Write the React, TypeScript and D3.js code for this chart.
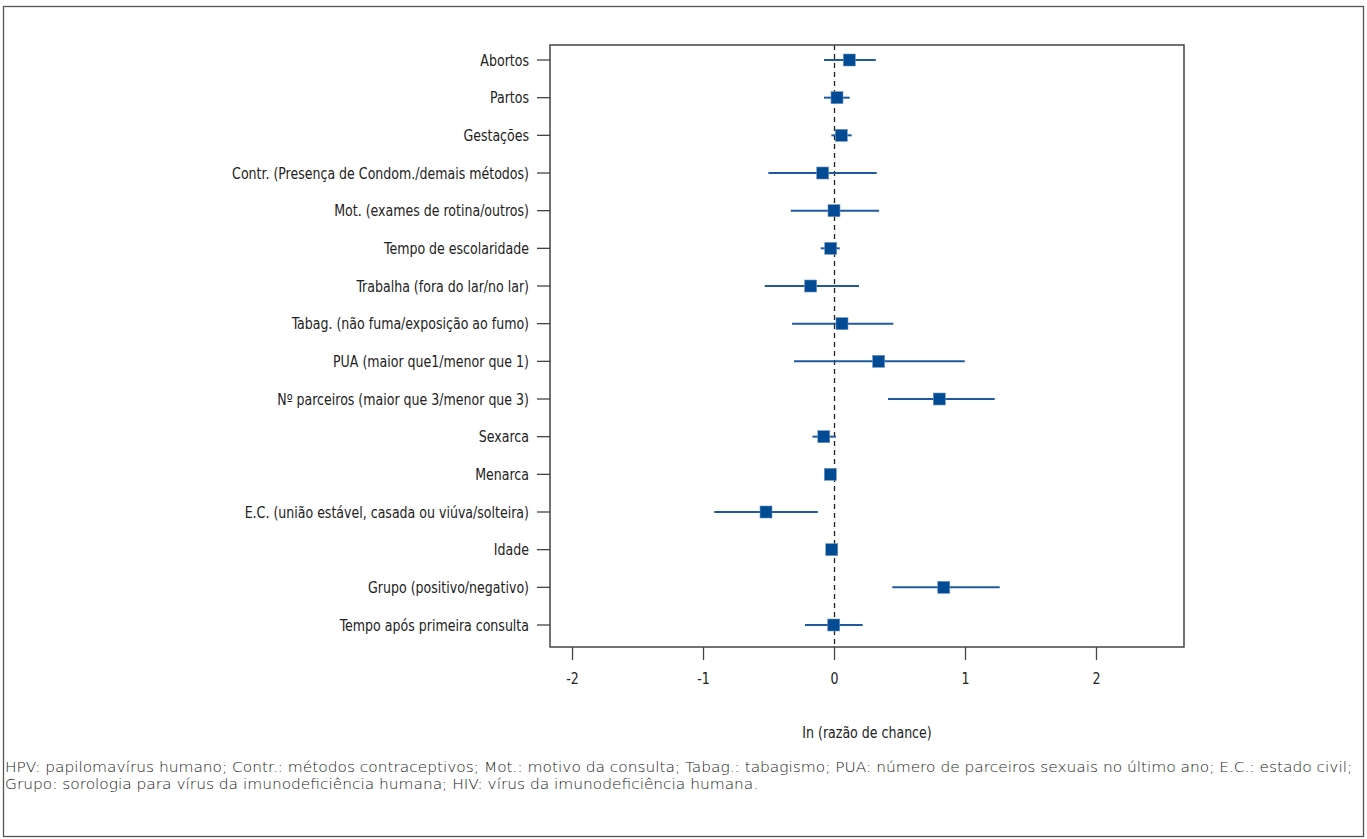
import React from "react";
import * as d3 from "d3";

const categories = [
  "Abortos",
  "Partos",
  "Gestações",
  "Contr. (Presença de Condom./demais métodos)",
  "Mot. (exames de rotina/outros)",
  "Tempo de escolaridade",
  "Trabalha (fora do lar/no lar)",
  "Tabag. (não fuma/exposição ao fumo)",
  "PUA (maior que1/menor que 1)",
  "Nº parceiros (maior que 3/menor que 3)",
  "Sexarca",
  "Menarca",
  "E.C. (união estável, casada ou viúva/solteira)",
  "Idade",
  "Grupo (positivo/negativo)",
  "Tempo após primeira consulta",
];

const estimates = [0.113, 0.019, 0.052, -0.09, -0.004, -0.029, -0.182, 0.057, 0.337, 0.8, -0.082, -0.032, -0.523, -0.021, 0.834, -0.006];
const lowerCI = [-0.08, -0.08, -0.024, -0.505, -0.334, -0.105, -0.533, -0.324, -0.309, 0.408, -0.169, -0.045, -0.918, -0.03, 0.441, -0.225];
const upperCI = [0.315, 0.116, 0.131, 0.322, 0.34, 0.04, 0.187, 0.449, 0.994, 1.223, 0.011, -0.02, -0.128, -0.012, 1.261, 0.215];

const xTicks = [-2, -1, 0, 1, 2];
const xTitle = "In (razão de chance)";
const footnote = [
  "HPV: papilomavírus humano; Contr.: métodos contraceptivos; Mot.: motivo da consulta; Tabag.: tabagismo; PUA: número de parceiros sexuais no último ano; E.C.: estado civil;",
  "Grupo: sorologia para vírus da imunodeficiência humana; HIV: vírus da imunodeficiência humana.",
];

const W = 1367;
const H = 839;
const plot = { left: 550, right: 1184, top: 45, bottom: 647 };
const labelFont = "'DejaVu Sans Condensed', 'DejaVu Sans', sans-serif";
const footFont = "'DejaVu Sans', sans-serif";
const blue = "#004b93";
const lineBlue = "#1f5a9e";

function CText({ x, y, anchor, children }: { x: number; y: number; anchor: string; children: React.ReactNode }) {
  return (
    <g transform={`translate(${x},${y}) scale(0.875,1)`}>
      <text x={0} y={0} dy="0.36em" textAnchor={anchor} fontFamily={labelFont} fontSize={16} fill="#222">
        {children}
      </text>
    </g>
  );
}

export default function App() {
  const x = d3.scaleLinear().domain([-2.172, 2.668]).range([plot.left, plot.right]);
  const y = d3.scalePoint<string>().domain(categories).range([60, 625]).padding(0);
  const sq = 12;

  return (
    <div style={{ position: "absolute", left: 0, top: 0 }}>
      <svg width={W} height={H} style={{ display: "block", background: "#fff" }}>
        <rect x={3.5} y={6.5} width={1360} height={830} fill="#fff" stroke="#555" strokeWidth={1.3} />

        <line x1={x(0)} x2={x(0)} y1={plot.top} y2={plot.bottom} stroke="#222" strokeWidth={1.3} strokeDasharray="5,4" />

        {categories.map((c, i) => {
          const yy = y(c)!;
          return (
            <g key={c}>
              <line x1={x(lowerCI[i])} x2={x(upperCI[i])} y1={yy} y2={yy} stroke={lineBlue} strokeWidth={2} />
              <rect x={x(estimates[i]) - sq / 2} y={yy - sq / 2} width={sq} height={sq} fill={blue} stroke="#6f93c0" strokeWidth={0.6} />
            </g>
          );
        })}

        <rect x={plot.left} y={plot.top} width={plot.right - plot.left} height={plot.bottom - plot.top} fill="none" stroke="#444" strokeWidth={1.5} />

        {categories.map((c) => {
          const yy = y(c)!;
          return (
            <g key={"yl" + c}>
              <line x1={plot.left - 13} x2={plot.left} y1={yy} y2={yy} stroke="#444" strokeWidth={1.3} />
              <CText x={plot.left - 21} y={yy} anchor="end">{c}</CText>
            </g>
          );
        })}

        {xTicks.map((t) => (
          <g key={"xt" + t}>
            <line x1={x(t)} x2={x(t)} y1={plot.bottom} y2={plot.bottom + 13} stroke="#444" strokeWidth={1.3} />
            <CText x={x(t)} y={plot.bottom + 31} anchor="middle">{t}</CText>
          </g>
        ))}

        <CText x={(plot.left + plot.right) / 2} y={732} anchor="middle">{xTitle}</CText>

        {footnote.map((f, i) => (
          <g key={i} transform={`translate(5,${772 + i * 17}) scale(1.1,1)`}>
            <text x={0} y={0} fontFamily={footFont} fontWeight={200} fontSize={14} fill="#1a1a1a">
              {f}
            </text>
          </g>
        ))}
      </svg>
    </div>
  );
}
